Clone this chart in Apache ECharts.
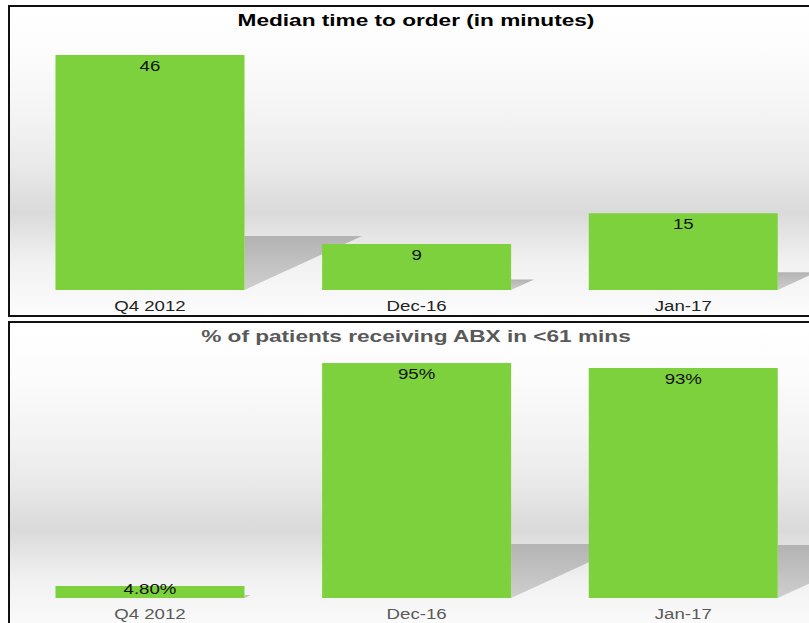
<!DOCTYPE html>
<html>
<head>
<meta charset="utf-8">
<script src="https://cdn.jsdelivr.net/npm/echarts@6/dist/echarts.min.js"></script>
<style>
  html, body { margin: 0; padding: 0; width: 809px; height: 623px; overflow: hidden; background: #fff; }
  .panel {
    position: absolute; left: 8px; width: 900px; border: 2px solid #111; overflow: hidden;
    background: linear-gradient(to bottom, #ffffff 0%, #fbfbfb 18%, #f3f3f3 36%, #e9e9e9 52%, #dedede 62%, #dadada 67%, #e3e3e3 73%, #f1f1f1 83%, #fcfcfc 100%);
  }
  #p1 { top: 5px; height: 308px; }
  #p2 { top: 321px; height: 310px; }
  .chart { position: absolute; left: 0; top: 0; width: 610px; transform: scaleX(1.331); transform-origin: 0 0; }
  #c1 { height: 308px; }
  #c2 { height: 300px; }
</style>
</head>
<body>
<div class="panel" id="p1"><div class="chart" id="c1"></div></div>
<div class="panel" id="p2"><div class="chart" id="c2"></div></div>
<script>
// categories shared by both panels
var categories = ['Q4 2012', 'Dec-16', 'Jan-17'];

// top panel: median time to order (minutes)
var medianTitle = 'Median time to order (in minutes)';
var medianValues = [46, 9, 15];

// bottom panel: % of patients receiving ABX in <61 mins
var abxTitle = '% of patients receiving ABX in <61 mins';
var abxValues = [4.8, 95, 93];
var abxLabels = ['4.80%', '95%', '93%'];

var STRETCH = 1.331;   // the picture is stretched sideways
var BAR_W = 142;       // logical px (189 on screen)
var GREEN = '#7DD13C';

// floor shadow behind each bar, drawn from the same scales
function renderShadow(params, api) {
  var base = api.coord([api.value(0), 0]);
  var top = api.coord([api.value(0), api.value(1)]);
  var h = base[1] - top[1];
  var x = base[0] + BAR_W / 2;
  var sh = h * 0.23, sw = h * 0.5 / STRETCH;
  return {
    type: 'polygon',
    shape: { points: [[x, base[1]], [x, base[1] - sh], [x + sw, base[1] - sh]] },
    style: {
      fill: new echarts.graphic.LinearGradient(0, 0, 0, 1, [
        { offset: 0, color: '#b3b3b3' },
        { offset: 1, color: '#cecece' }
      ])
    }
  };
}

function build_option(title, titleColor, axisColor, values, labels, max, gridTop) {
  var barData = values.map(function (v, i) {
    var item = { value: v, label: { formatter: labels ? labels[i] : String(v) } };
    // very short bar: label sits across its top edge
    if (v / max < 0.1) item.label.position = 'inside', item.label.offset = [0, -3];
    return item;
  });
  return {
    animation: false,
    title: {
      text: title, left: 'center', top: 5, padding: 0,
      textStyle: { color: titleColor, fontSize: 17, fontWeight: 'bold', fontFamily: 'Liberation Sans, Arial, sans-serif' }
    },
    grid: { left: 5, right: 4, top: gridTop, bottom: 25 },
    xAxis: {
      type: 'category', data: categories,
      axisLine: { show: false }, axisTick: { show: false },
      axisLabel: { color: axisColor, fontSize: 14, margin: 9, fontFamily: 'Liberation Sans, Arial, sans-serif' }
    },
    yAxis: { type: 'value', min: 0, max: max, show: false, splitLine: { show: false } },
    series: [
      {
        type: 'custom', z: 1, silent: true,
        renderItem: renderShadow,
        encode: { x: 0, y: 1 },
        data: values.map(function (v, i) { return [i, v]; })
      },
      {
        type: 'bar', z: 2, barWidth: BAR_W,
        itemStyle: { color: GREEN },
        label: {
          show: true, position: 'insideTop', distance: 4,
          color: '#111', fontSize: 14, fontFamily: 'Liberation Sans, Arial, sans-serif'
        },
        data: barData
      }
    ]
  };
}

var chart1 = echarts.init(document.getElementById('c1'), null, { renderer: 'svg' });
chart1.setOption(build_option(medianTitle, '#000', '#222', medianValues, null, 50, 27.5));

var chart2 = echarts.init(document.getElementById('c2'), null, { renderer: 'svg' });
chart2.setOption(build_option(abxTitle, '#595959', '#595959', abxValues, abxLabels, 100, 27.6));
</script>
</body>
</html>
